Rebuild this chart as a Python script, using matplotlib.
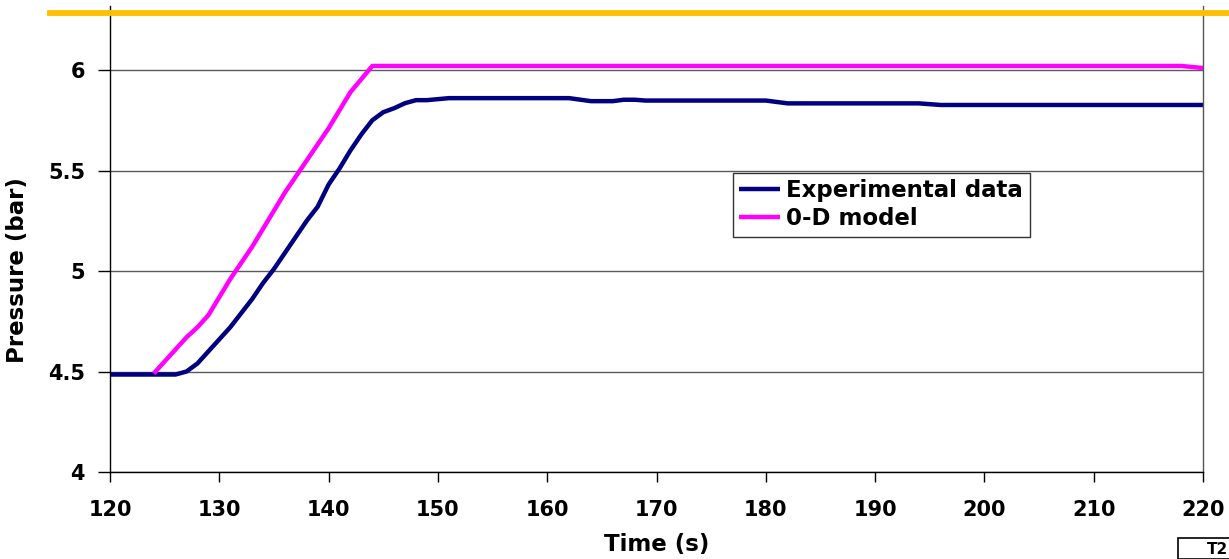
import matplotlib
matplotlib.use("Agg")
import matplotlib.pyplot as plt
from matplotlib.lines import Line2D
from matplotlib.patches import Rectangle

plt.rcParams['font.family'] = ['DejaVu Sans']

# Experimental data
exp_t = [120, 126, 127, 128, 129, 130, 131, 132, 133, 134, 135, 136, 137, 138, 139,
         140, 141, 142, 143, 144, 145, 146, 147, 148, 149, 151, 162, 164, 166, 167,
         168, 169, 180, 182, 194, 196, 220]
exp_p = [4.485, 4.485, 4.50, 4.54, 4.60, 4.66, 4.72, 4.79, 4.86, 4.94, 5.01, 5.09, 5.17, 5.25, 5.32,
         5.43, 5.51, 5.60, 5.68, 5.75, 5.79, 5.81, 5.835, 5.85, 5.85, 5.86, 5.86, 5.845, 5.845, 5.852,
         5.852, 5.848, 5.848, 5.834, 5.834, 5.826, 5.826]

# 0-D model
mod_t = [124, 125, 126, 127, 128, 129, 130, 131, 132, 133, 134, 135, 136, 137, 138,
         139, 140, 141, 142, 143, 144, 218, 220]
mod_p = [4.49, 4.55, 4.61, 4.67, 4.72, 4.78, 4.87, 4.96, 5.04, 5.12, 5.21, 5.30, 5.39, 5.47, 5.55,
         5.63, 5.71, 5.80, 5.89, 5.955, 6.02, 6.02, 6.01]

x_ticks = [120, 130, 140, 150, 160, 170, 180, 190, 200, 210, 220]
y_ticks = [4, 4.5, 5, 5.5, 6]
y_ticklabels = ['4', '4.5', '5', '5.5', '6']

W, H = 1229, 559
fig = plt.figure(figsize=(W / 100, H / 100), dpi=100)
left, right, bottom, top = 110, 1203, 472, 6
ax = fig.add_axes([left / W, (H - bottom) / H, (right - left) / W, (bottom - top) / H])

ax.set_xlim(120, 220)
ax.set_ylim(4, 4 + (bottom - top) / 201.0)

ax.set_yticks(y_ticks)
ax.set_yticklabels(y_ticklabels)
ax.set_xticks(x_ticks)
ax.grid(axis='y', color='#5a5a5a', linewidth=1.0)
ax.set_axisbelow(True)

ax.plot(exp_t, exp_p, color='#000080', linewidth=3.2, label='Experimental data', solid_capstyle='butt')
ax.plot(mod_t, mod_p, color='#FF00FF', linewidth=3.2, label='0-D model', solid_capstyle='butt')

for s in ['left', 'bottom', 'right']:
    ax.spines[s].set_color('#000000')
    ax.spines[s].set_linewidth(1.0)
ax.spines['right'].set_color('#555555')
ax.spines['top'].set_visible(False)

ax.tick_params(axis='both', direction='out', length=7, width=1, labelsize=15)
ax.tick_params(axis='x', pad=13)
ax.tick_params(axis='y', length=9, pad=9)
for lab in ax.get_xticklabels() + ax.get_yticklabels():
    lab.set_fontweight('bold')

ax.set_xlabel('Time (s)', fontsize=16.5, fontweight='bold')
ax.set_ylabel('Pressure (bar)', fontsize=16.5, fontweight='bold')
ax.xaxis.set_label_coords((657 - left) / (right - left), -(545 - bottom) / (bottom - top))
ax.yaxis.set_label_coords(-(110 - 18) / (right - left), (bottom - 270) / (bottom - top))
ax.xaxis.label.set_va('center')
ax.yaxis.label.set_va('center')

leg = ax.legend(loc='upper left', bbox_to_anchor=((733 - left) / (right - left), 1 - (173 - top) / (bottom - top)),
                prop={'weight': 'bold', 'size': 16.5}, frameon=True, fancybox=False,
                edgecolor='#000000', borderpad=0.28, handlelength=1.75, handletextpad=0.3,
                labelspacing=0.22, borderaxespad=0)
leg.get_frame().set_linewidth(1.0)

# Orange decoration line at the top
fig.add_artist(Line2D([50 / W, 1.0], [(H - 13) / H, (H - 13) / H], color='#FFC000', linewidth=4.2,
                      transform=fig.transFigure))

# Partially visible box at bottom-right
fig.add_artist(Rectangle((1178 / W, 0), 60 / W, (H - 538) / H, transform=fig.transFigure,
                         facecolor='white', edgecolor='black', linewidth=1.2, clip_on=False))
fig.text(1207 / W, (H - 550) / H, 'T2', fontsize=11, fontweight='bold', va='center', ha='left')

fig.savefig('out.png', dpi=100)
